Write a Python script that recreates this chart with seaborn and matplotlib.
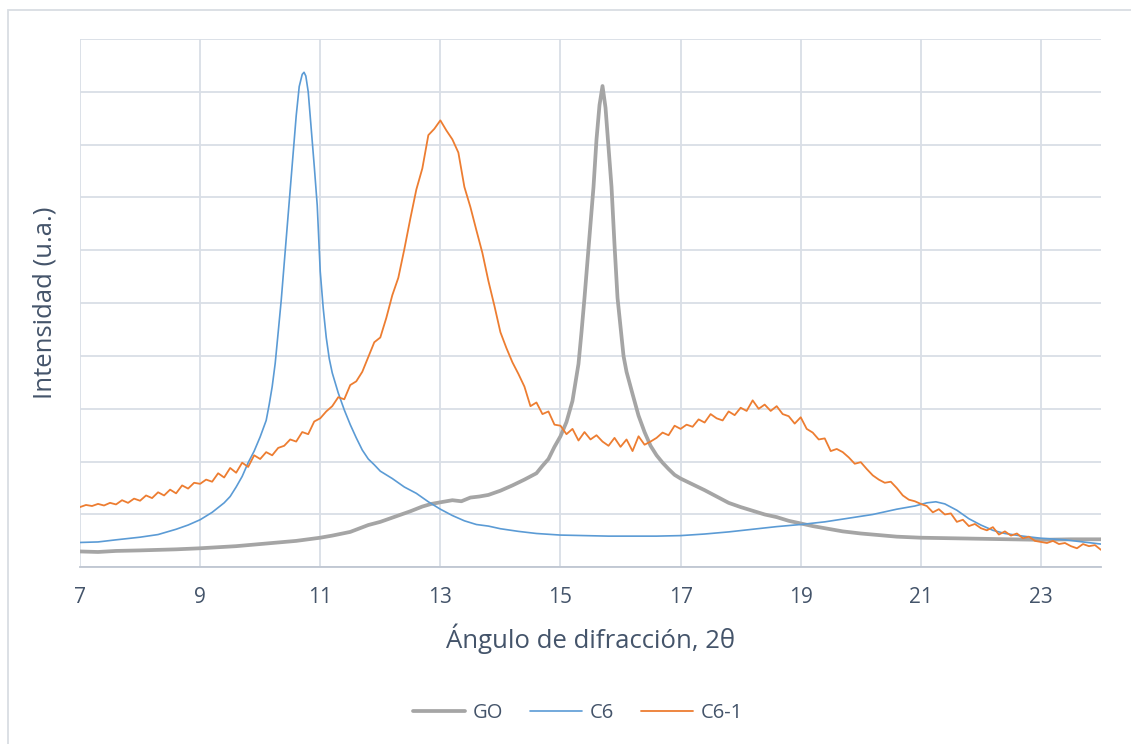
import matplotlib
matplotlib.use("Agg")
import matplotlib.pyplot as plt
from matplotlib.patches import Rectangle
import seaborn as sns
import pandas as pd

# ---- data -------------------------------------------------------------
go_x = [7.0, 7.3, 7.6, 8.0, 8.3, 8.6, 9.0, 9.3, 9.6, 10.0, 10.3, 10.6, 11.0, 11.2,
        11.5, 11.8, 12.0, 12.3, 12.5, 12.7, 12.85, 13.0, 13.2, 13.35, 13.5, 13.65, 13.8,
        14.0, 14.2, 14.4, 14.6, 14.7, 14.8, 14.9, 15.0, 15.1, 15.2, 15.3, 15.35, 15.4,
        15.45, 15.5, 15.55, 15.6, 15.65, 15.7, 15.75, 15.8, 15.85, 15.9, 15.95, 16.0,
        16.05, 16.1, 16.2, 16.3, 16.4, 16.5, 16.6, 16.7, 16.8, 16.9, 17.0, 17.2, 17.4,
        17.6, 17.8, 18.0, 18.2, 18.4, 18.6, 18.8, 19.0, 19.2, 19.4, 19.7, 20.0, 20.3,
        20.6, 21.0, 21.5, 22.0, 22.5, 23.0, 23.5, 24.0]
go_y = [0.30, 0.29, 0.31, 0.32, 0.33, 0.34, 0.36, 0.38, 0.40, 0.44, 0.47, 0.50, 0.56, 0.60,
        0.67, 0.80, 0.86, 0.98, 1.06, 1.15, 1.20, 1.23, 1.27, 1.25, 1.32, 1.34, 1.37,
        1.45, 1.55, 1.66, 1.78, 1.92, 2.05, 2.28, 2.48, 2.75, 3.15, 3.85, 4.45, 5.10,
        5.80, 6.50, 7.20, 8.10, 8.75, 9.11, 8.70, 7.95, 7.20, 6.10, 5.10, 4.55,
        4.00, 3.70, 3.28, 2.87, 2.56, 2.30, 2.12, 1.98, 1.86, 1.75, 1.68, 1.57, 1.46,
        1.34, 1.22, 1.14, 1.07, 1.00, 0.95, 0.88, 0.83, 0.78, 0.74, 0.68, 0.64, 0.61,
        0.58, 0.56, 0.55, 0.54, 0.53, 0.52, 0.53, 0.53]

c6_x = [7.0, 7.3, 7.6, 8.0, 8.3, 8.6, 8.8, 9.0, 9.2, 9.4, 9.5, 9.6, 9.7, 9.8, 9.9, 10.0,
        10.1, 10.15, 10.2, 10.25, 10.3, 10.35, 10.4, 10.45, 10.5, 10.55, 10.6, 10.65,
        10.7, 10.73, 10.76, 10.8, 10.85, 10.9, 10.95, 11.0, 11.05, 11.1, 11.15, 11.2,
        11.3, 11.4, 11.5, 11.6, 11.7, 11.8, 11.9, 12.0, 12.2, 12.4, 12.6, 12.8, 13.0,
        13.2, 13.4, 13.6, 13.8, 14.0, 14.3, 14.6, 15.0, 15.4, 15.8, 16.2, 16.6, 17.0,
        17.4, 17.8, 18.2, 18.6, 19.0, 19.4, 19.8, 20.2, 20.6, 20.9, 21.1, 21.25, 21.4,
        21.6, 21.8, 22.0, 22.2, 22.4, 22.7, 23.0, 23.4, 23.7, 24.0]
c6_y = [0.47, 0.48, 0.52, 0.57, 0.62, 0.72, 0.80, 0.90, 1.04, 1.22, 1.34, 1.52, 1.72, 1.98, 2.20, 2.47,
        2.78, 3.08, 3.42, 3.86, 4.45, 5.05, 5.75, 6.45, 7.15, 7.85, 8.55, 9.10,
        9.33, 9.37, 9.30, 9.00, 8.30, 7.60, 6.85, 5.60, 4.90, 4.35, 3.95, 3.68,
        3.30, 2.98, 2.70, 2.45, 2.22, 2.05, 1.94, 1.82, 1.68, 1.52, 1.40, 1.24, 1.10,
        0.98, 0.88, 0.81, 0.78, 0.73, 0.68, 0.64, 0.61, 0.60, 0.59, 0.59, 0.59, 0.60,
        0.63, 0.67, 0.72, 0.77, 0.81, 0.86, 0.93, 1.00, 1.10, 1.16, 1.22, 1.24, 1.20,
        1.08, 0.92, 0.80, 0.70, 0.64, 0.59, 0.55, 0.52, 0.48, 0.44]

c61_x = [round(7.0 + 0.1 * i, 1) for i in range(171)]
c61_y = [1.14, 1.18, 1.16, 1.20, 1.17, 1.22, 1.19, 1.27, 1.22, 1.30,
         1.26, 1.36, 1.31, 1.42, 1.36, 1.47, 1.40, 1.55, 1.49, 1.60,
         1.58, 1.66, 1.62, 1.78, 1.70, 1.88, 1.79, 1.98, 1.90, 2.12,
         2.05, 2.18, 2.12, 2.26, 2.30, 2.42, 2.38, 2.56, 2.52, 2.76,
         2.82, 2.95, 3.05, 3.22, 3.18, 3.45, 3.52, 3.70, 3.98, 4.26,
         4.35, 4.72, 5.15, 5.48, 6.02, 6.60, 7.15, 7.55, 8.18, 8.30,
         8.46, 8.27, 8.10, 7.85, 7.20, 6.82, 6.38, 5.95, 5.42, 4.95,
         4.45, 4.15, 3.88, 3.66, 3.42, 3.05, 3.12, 2.90, 2.95, 2.70,
         2.68, 2.52, 2.62, 2.40, 2.56, 2.42, 2.50, 2.38, 2.30, 2.45,
         2.28, 2.42, 2.20, 2.48, 2.32, 2.38, 2.45, 2.55, 2.50, 2.68,
         2.62, 2.70, 2.66, 2.80, 2.74, 2.90, 2.82, 2.78, 2.95, 2.88,
         3.02, 2.96, 3.16, 3.00, 3.08, 2.96, 3.05, 2.90, 2.86, 2.72,
         2.84, 2.62, 2.55, 2.42, 2.44, 2.20, 2.24, 2.18, 2.08, 1.96,
         1.99, 1.86, 1.74, 1.66, 1.60, 1.62, 1.50, 1.36, 1.28, 1.25,
         1.20, 1.16, 1.04, 1.10, 1.00, 1.02, 0.86, 0.90, 0.78, 0.82,
         0.74, 0.70, 0.76, 0.62, 0.68, 0.60, 0.64, 0.55, 0.58, 0.50,
         0.48, 0.46, 0.50, 0.44, 0.46, 0.40, 0.36, 0.44, 0.40, 0.42, 0.33]

series_names = ["GO", "C6", "C6-1"]
x_ticks = [7, 9, 11, 13, 15, 17, 19, 21, 23]

# ---- style ------------------------------------------------------------
sns.set_theme(style="white")
plt.rcParams["font.family"] = ["Open Sans", "DejaVu Sans"]
text_color = "#44546a"
grid_color = "#d9dee6"

W, H = 1131, 744
fig = plt.figure(figsize=(W / 100, H / 100), dpi=100)
fig.patch.set_facecolor("white")

# chart area border
fig.patches.append(Rectangle((8 / W, -0.05), 1.1, 1 - 10 / H + 0.05,
                             transform=fig.transFigure, fill=False,
                             edgecolor="#d9dde3", linewidth=1.3, zorder=0))

ax = fig.add_axes([80 / W, 1 - 567.3 / H, (1101 - 80) / W, (567.3 - 39) / H])

frames = {
    "GO": pd.DataFrame({"x": go_x, "y": go_y}),
    "C6": pd.DataFrame({"x": c6_x, "y": c6_y}),
    "C6-1": pd.DataFrame({"x": c61_x, "y": c61_y}),
}
styles = {
    "GO": dict(color="#a5a5a5", linewidth=2.7),
    "C6": dict(color="#5b9bd5", linewidth=1.2),
    "C6-1": dict(color="#ed7d31", linewidth=1.3),
}
for i, name in enumerate(series_names):
    sns.lineplot(data=frames[name], x="x", y="y", ax=ax, label=name,
                 sort=False, estimator=None, zorder=3 + i,
                 solid_joinstyle="round", **styles[name])

ax.set_xlim(7, 24)
ax.set_ylim(0, 10)
ax.set_xticks(x_ticks)
ax.set_xticklabels([str(t) for t in x_ticks])
ax.set_yticks(range(0, 11))
ax.set_yticklabels([])
ax.tick_params(axis="x", length=0, pad=14, labelsize=15, labelcolor=text_color)
ax.tick_params(axis="y", length=0)
ax.grid(True, color=grid_color, linewidth=1.3)
ax.set_axisbelow(True)
for side in ["top", "right", "left"]:
    ax.spines[side].set_visible(False)
ax.spines["bottom"].set_color("#bfc6d1")
ax.spines["bottom"].set_linewidth(1.3)
ax.spines["bottom"].set_zorder(2)

ax.set_xlabel("Ángulo de difracción, 2θ", fontsize=18.5, color=text_color, labelpad=11)
ax.set_ylabel("Intensidad (u.a.)", fontsize=18.5, color=text_color, labelpad=13)

ax.legend_.remove()
handles, labels = ax.get_legend_handles_labels()
fig.legend(handles, labels, loc="center", bbox_to_anchor=(578 / W, 1 - 713 / H),
           ncol=3, frameon=False, fontsize=14.5, labelcolor=text_color,
           handlelength=2.6, handletextpad=0.4, columnspacing=1.3)

fig.savefig("out.png", dpi=100, facecolor="white")
